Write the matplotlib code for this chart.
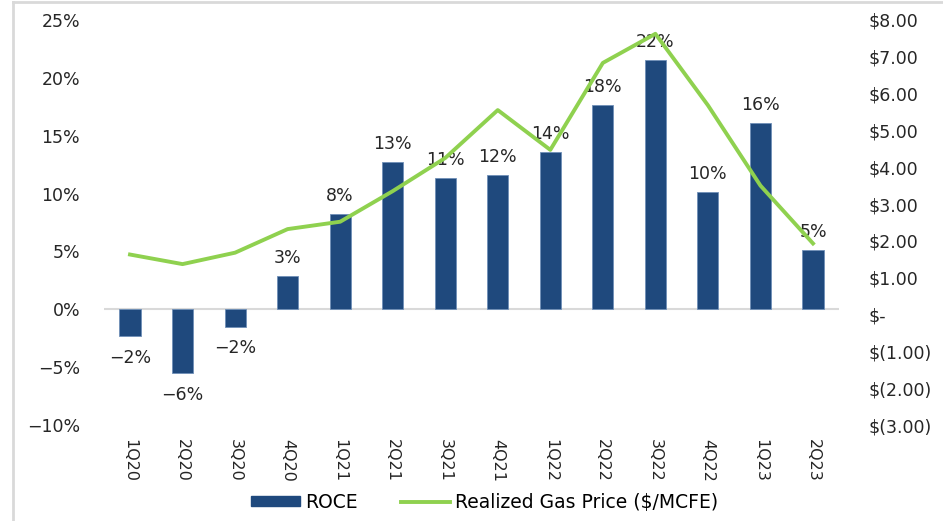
import matplotlib.pyplot as plt
from matplotlib.patches import Rectangle
from matplotlib.lines import Line2D
from matplotlib.ticker import FuncFormatter

quarters = ["1Q20", "2Q20", "3Q20", "4Q20", "1Q21", "2Q21", "3Q21",
            "4Q21", "1Q22", "2Q22", "3Q22", "4Q22", "1Q23", "2Q23"]
roce = [-2.3, -5.5, -1.5, 2.85, 8.2, 12.7, 11.3,
        11.6, 13.6, 17.6, 21.5, 10.1, 16.1, 5.1]
roce_labels = ["\u22122%", "\u22126%", "\u22122%", "3%", "8%", "13%", "11%",
               "12%", "14%", "18%", "22%", "10%", "16%", "5%"]
gas_price = [1.63, 1.37, 1.68, 2.32, 2.52, 3.35, 4.25,
             5.55, 4.47, 6.83, 7.62, 5.68, 3.5, 1.93]

BAR = "#1F497D"
GREEN = "#8FD14F"
TXT = "#262626"
FS = 12.5

plt.rcParams["font.family"] = ["DejaVu Sans"]
plt.rcParams["axes.unicode_minus"] = True

fig = plt.figure(figsize=(9.43, 5.21), dpi=100)
ax = fig.add_axes([0.110, 0.184, 0.780, 0.778])
x = range(len(quarters))
ax.bar(x, roce, width=0.4, color=BAR, edgecolor="#6f8fb8", linewidth=0.6, zorder=2)
ax.axhline(0, color="#d9d9d9", linewidth=1.5, zorder=1)
for i, (v, lab) in enumerate(zip(roce, roce_labels)):
    if v >= 0:
        ax.text(i, v + 0.8, lab, ha="center", va="bottom", fontsize=FS, color=TXT, zorder=5)
    else:
        ax.text(i, v - 1.1, lab, ha="center", va="top", fontsize=FS, color=TXT, zorder=5)

ax.set_xlim(-0.5, len(quarters) - 0.5)
ax.set_ylim(-10, 25)
ax.set_yticks([-10, -5, 0, 5, 10, 15, 20, 25])
ax.yaxis.set_major_formatter(FuncFormatter(lambda v, p: f"{v:.0f}%".replace("-", "\u2212")))
ax.set_xticks(list(x))
ax.set_xticklabels(quarters, rotation=270, fontsize=11.5, color=TXT)
for s in ax.spines.values():
    s.set_visible(False)
ax.tick_params(axis="y", length=0, labelsize=FS, labelcolor=TXT, pad=17)
ax.tick_params(axis="x", length=0, pad=10)

ax2 = ax.twinx()
ax2.plot(x, gas_price, color=GREEN, linewidth=2.8, zorder=3)
ax2.set_ylim(-3, 8)
ax2.set_yticks(range(-3, 9))


def money(v, p):
    if v == 0:
        return "$-"
    if v < 0:
        return f"$({abs(v):.2f})"
    return f"${v:.2f}"


ax2.yaxis.set_major_formatter(FuncFormatter(money))
for s in ax2.spines.values():
    s.set_visible(False)
ax2.tick_params(axis="y", length=0, labelsize=FS, labelcolor=TXT, pad=21)

handles = [Rectangle((0, 0), 1, 1, color=BAR),
           Line2D([0], [0], color=GREEN, linewidth=2.8)]
fig.legend(handles, ["ROCE", "Realized Gas Price ($/MCFE)"], loc="center",
           bbox_to_anchor=(0.514, 0.036), ncol=2, frameon=False,
           prop={"family": "DejaVu Sans", "size": 13.5},
           handlelength=2.6, handleheight=0.42, columnspacing=2.3, handletextpad=0.3)

fig.add_artist(Line2D([0.014, 0.014], [0.0, 0.996], color="#d9d9d9", linewidth=2))
fig.add_artist(Line2D([0.014, 1.0], [0.996, 0.996], color="#d9d9d9", linewidth=2))

fig.savefig("out.png", dpi=100)
